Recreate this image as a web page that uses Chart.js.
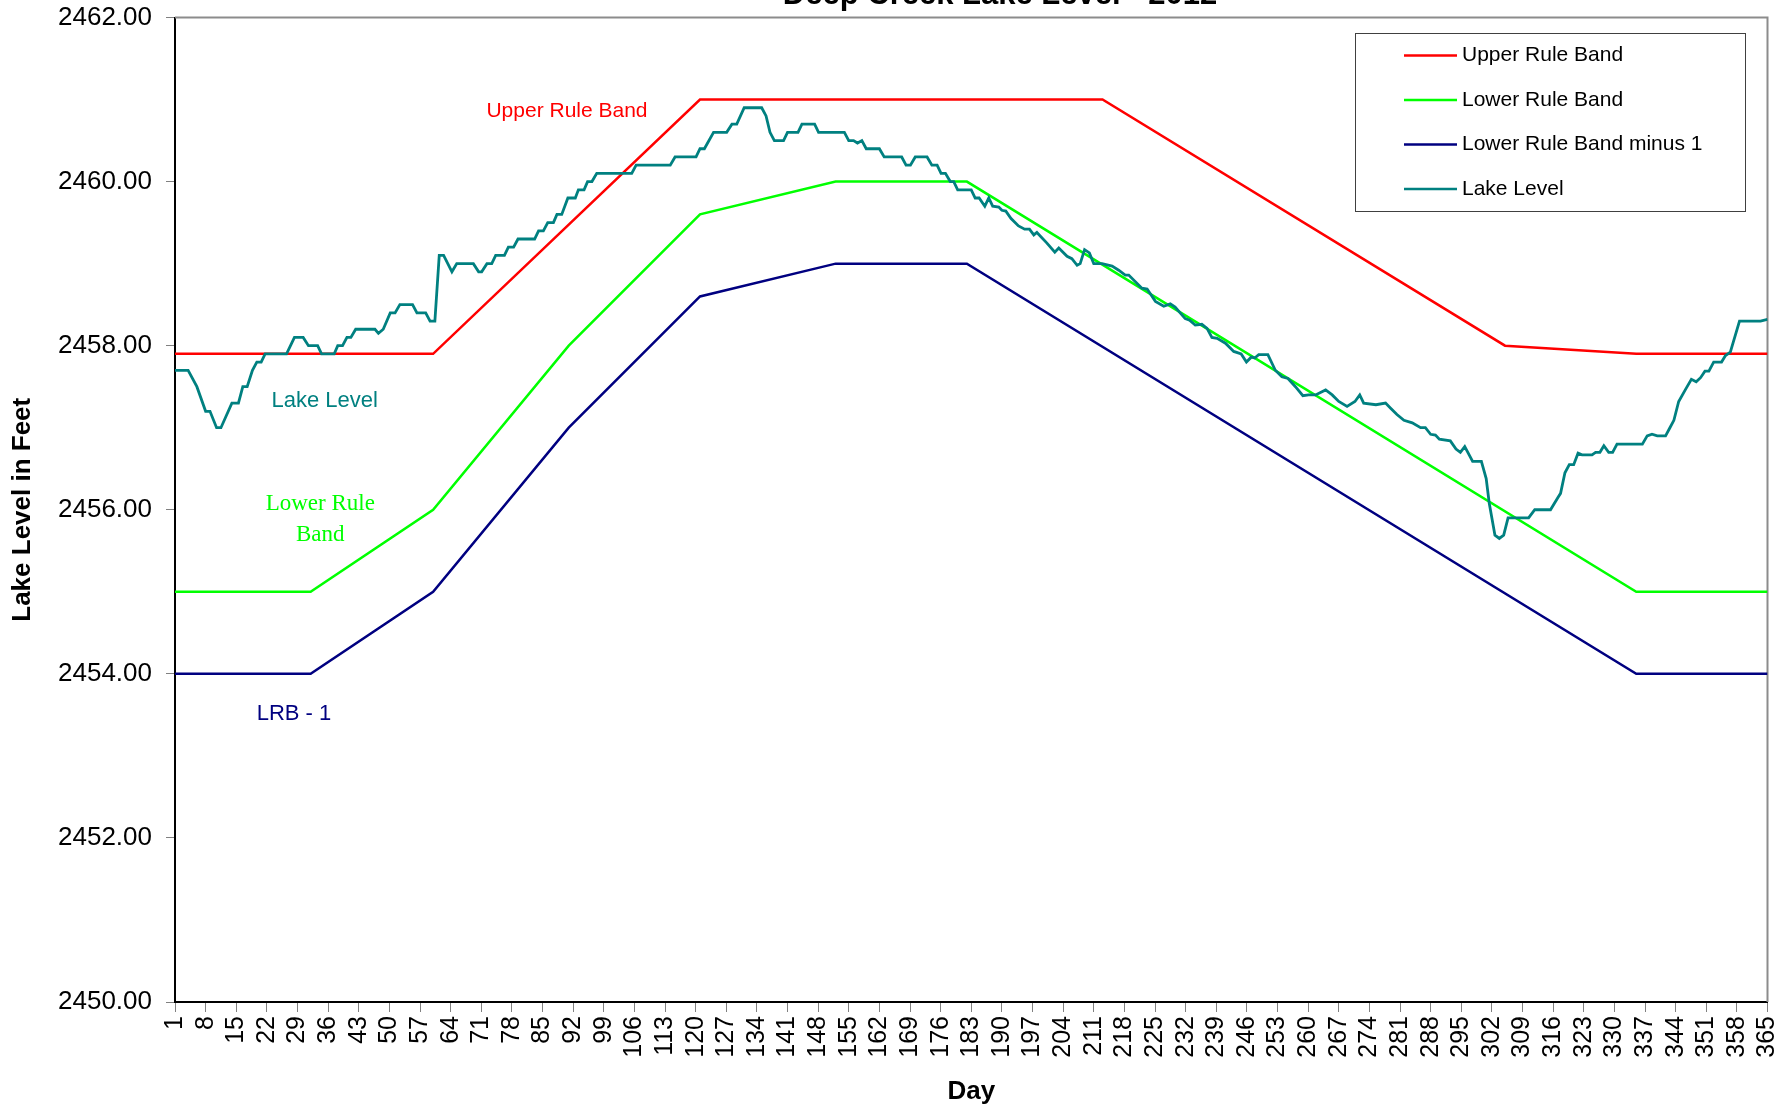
<!DOCTYPE html>
<html>
<head>
<meta charset="utf-8">
<title>Deep Creek Lake Level - 2012</title>
<script src="https://cdn.jsdelivr.net/npm/chart.js@4.4.1/dist/chart.umd.min.js"></script>
<style>
  html, body { margin: 0; padding: 0; background: #fff; }
  canvas { display: block; }
</style>
</head>
<body>
<canvas id="lake" width="1792" height="1109"></canvas>
<script>
// rule bands (day of year -> feet)
const upperDays = [1, 60, 121, 213, 305, 335, 365];
const upperLevels = [2457.9, 2457.9, 2461.0, 2461.0, 2458.0, 2457.9, 2457.9];

const lowerDays = [1, 32, 60, 91, 121, 152, 182, 335, 365];
const lowerLevels = [2455.0, 2455.0, 2456.0, 2458.0, 2459.6, 2460.0, 2460.0, 2455.0, 2455.0];
const lrbLevels = [2454.0, 2454.0, 2455.0, 2457.0, 2458.6, 2459.0, 2459.0, 2454.0, 2454.0];

// lake level
const lakeDays = [1, 4, 6, 8, 9, 10.5, 11.5, 14, 15.5, 16.5, 17.5, 18.7, 19.7, 20.7, 21.6, 26.5, 28.3, 30.3, 31.5, 33.6,
  34.5, 37.4, 38.2, 39.3, 40.3, 41.2, 42.3, 46.7, 47.5, 48.6, 50.2, 51.3, 52.4, 55.3, 56.3, 58.3, 59.3, 60.4, 61.4, 62.4,
  64.3, 65.4, 69.2, 70.4, 71.1, 72.3, 73.4, 74.3, 76.3, 77.2, 78.4, 79.4, 83.2, 84.1, 85.2, 86.2, 87.5, 88.3, 89.4, 90.8,
  92.5, 93.2, 94.5, 95.3, 96.3, 97.4, 105.4, 106.4, 114.2, 115.3, 120.1, 121, 122, 124.1, 127.1, 128.3, 129.4, 131.1, 135.1, 136.1,
  137, 138, 140.1, 141, 143.4, 144.3, 147.2, 148.1, 154, 155, 156.1, 157, 158, 159, 162, 163.1, 167.1, 168.1, 169.1, 170.2,
  172.9, 174, 175.2, 176.1, 177.1, 178.2, 179, 179.9, 183, 183.9, 184.8, 186.1, 187, 187.9, 189.3, 190, 190.9, 192.1, 193.8, 195.2,
  196.3, 197.3, 198, 200.3, 202.1, 203, 204.9, 206, 207.2, 207.9, 208.9, 210, 211, 212.9, 215.2, 216.7, 218.2, 219, 222, 223.2,
  225.1, 227, 228.5, 229.6, 231.9, 232.9, 234.2, 235.7, 236.9, 238, 239.2, 241.1, 243, 244.7, 245.9, 247, 247.8, 248.7, 249.8, 250.8,
  252.5, 254, 255.4, 257.1, 258.8, 260.1, 261.7, 264, 265.5, 267, 268.9, 270.7, 271.8, 272.7, 275.5, 277.7, 278.8, 280.3, 281.9, 283.8,
  285.7, 286.8, 288, 289.1, 290, 292.5, 293.8, 294.8, 295.8, 297.6, 299.6, 300.7, 301.4, 302.7, 303.7, 304.7, 305.7, 310.4, 311.8, 315.4,
  317.1, 317.7, 318.7, 319.7, 320.7, 321.7, 322.6, 324.9, 325.7, 326.7, 327.6, 328.7, 329.6, 330.6, 336.4, 337.5, 338.6, 339.8, 341.7, 342.6,
  343.6, 344.7, 346.3, 347.6, 348.7, 349.7, 350.7, 351.6, 352.7, 354.5, 355.4, 356.5, 358.6, 363.4, 365];
const lakeLevels = [2457.7, 2457.7, 2457.5, 2457.2, 2457.2, 2457.0, 2457.0, 2457.3, 2457.3, 2457.5, 2457.5, 2457.7, 2457.8, 2457.8, 2457.9, 2457.9, 2458.1, 2458.1, 2458.0, 2458.0,
  2457.9, 2457.9, 2458.0, 2458.0, 2458.1, 2458.1, 2458.2, 2458.2, 2458.15, 2458.2, 2458.4, 2458.4, 2458.5, 2458.5, 2458.4, 2458.4, 2458.3, 2458.3, 2459.1, 2459.1,
  2458.9, 2459.0, 2459.0, 2458.9, 2458.9, 2459.0, 2459.0, 2459.1, 2459.1, 2459.2, 2459.2, 2459.3, 2459.3, 2459.4, 2459.4, 2459.5, 2459.5, 2459.6, 2459.6, 2459.8,
  2459.8, 2459.9, 2459.9, 2460.0, 2460.0, 2460.1, 2460.1, 2460.2, 2460.2, 2460.3, 2460.3, 2460.4, 2460.4, 2460.6, 2460.6, 2460.7, 2460.7, 2460.9, 2460.9, 2460.8,
  2460.6, 2460.5, 2460.5, 2460.6, 2460.6, 2460.7, 2460.7, 2460.6, 2460.6, 2460.5, 2460.5, 2460.47, 2460.5, 2460.4, 2460.4, 2460.3, 2460.3, 2460.2, 2460.2, 2460.3,
  2460.3, 2460.2, 2460.2, 2460.1, 2460.1, 2460.0, 2460.0, 2459.9, 2459.9, 2459.8, 2459.8, 2459.7, 2459.8, 2459.7, 2459.69, 2459.65, 2459.64, 2459.55, 2459.46, 2459.42,
  2459.42, 2459.35, 2459.38, 2459.25, 2459.14, 2459.19, 2459.09, 2459.06, 2458.98, 2459.0, 2459.17, 2459.13, 2459.0, 2459.0, 2458.97, 2458.92, 2458.86, 2458.86, 2458.70, 2458.69,
  2458.54, 2458.48, 2458.51, 2458.47, 2458.33, 2458.31, 2458.25, 2458.26, 2458.21, 2458.10, 2458.09, 2458.03, 2457.93, 2457.90, 2457.80, 2457.86, 2457.85, 2457.89, 2457.89, 2457.89,
  2457.70, 2457.62, 2457.60, 2457.50, 2457.39, 2457.40, 2457.40, 2457.46, 2457.40, 2457.32, 2457.26, 2457.32, 2457.40, 2457.30, 2457.28, 2457.30, 2457.24, 2457.16, 2457.09, 2457.06,
  2457.00, 2457.00, 2456.92, 2456.91, 2456.86, 2456.84, 2456.74, 2456.70, 2456.77, 2456.59, 2456.59, 2456.38, 2456.08, 2455.69, 2455.65, 2455.69, 2455.90, 2455.90, 2456.0, 2456.0,
  2456.15, 2456.2, 2456.45, 2456.55, 2456.55, 2456.69, 2456.67, 2456.67, 2456.70, 2456.70, 2456.78, 2456.70, 2456.70, 2456.80, 2456.80, 2456.90, 2456.92, 2456.90, 2456.90, 2456.99,
  2457.09, 2457.32, 2457.47, 2457.59, 2457.56, 2457.61, 2457.69, 2457.69, 2457.80, 2457.80, 2457.88, 2457.92, 2458.30, 2458.30, 2458.32];

// axis ticks
const dayTicks = [1, 8, 15, 22, 29, 36, 43, 50, 57, 64, 71, 78, 85, 92, 99, 106, 113, 120, 127, 134, 141, 148, 155,
  162, 169, 176, 183, 190, 197, 204, 211, 218, 225, 232, 239, 246, 253, 260, 267, 274, 281, 288, 295, 302, 309, 316,
  323, 330, 337, 344, 351, 358, 365];
const levelTicks = [2450, 2452, 2454, 2456, 2458, 2460, 2462];

// text labels placed on the plot in data units
const notes = [
  { text: 'Upper Rule Band', day: 90.6, level: 2460.86, color: '#ff0000', font: '21px "Liberation Sans", Arial, sans-serif' },
  { text: 'Lake Level', day: 35.2, level: 2457.33, color: '#008080', font: '22px "Liberation Sans", Arial, sans-serif' },
  { text: 'Lower Rule', day: 34.2, level: 2456.07, color: '#00ff00', font: '23px "Liberation Serif", "Times New Roman", serif' },
  { text: 'Band', day: 34.2, level: 2455.69, color: '#00ff00', font: '23px "Liberation Serif", "Times New Roman", serif' },
  { text: 'LRB - 1', day: 28.2, level: 2453.51, color: '#000080', font: '22px "Liberation Sans", Arial, sans-serif' }
];

const toPoints = (xs, ys) => xs.map((d, i) => ({ x: d, y: ys[i] }));

Chart.defaults.font.family = '"Liberation Sans", Arial, sans-serif';
Chart.defaults.color = '#000';

const framePlugin = {
  id: 'frame',
  beforeDatasetsDraw(chart) {
    const { ctx, chartArea: a } = chart;
    ctx.save();
    ctx.strokeStyle = '#8c8c8c';
    ctx.lineWidth = 2;
    ctx.beginPath();
    ctx.moveTo(a.left, a.top);
    ctx.lineTo(a.right, a.top);
    ctx.lineTo(a.right, a.bottom);
    ctx.stroke();
    ctx.restore();
  }
};

const notesPlugin = {
  id: 'notes',
  afterDatasetsDraw(chart) {
    const { ctx, scales } = chart;
    ctx.save();
    ctx.textAlign = 'center';
    ctx.textBaseline = 'middle';
    notes.forEach(n => {
      ctx.font = n.font;
      ctx.fillStyle = n.color;
      ctx.fillText(n.text, scales.x.getPixelForValue(n.day), scales.y.getPixelForValue(n.level));
    });
    ctx.restore();
  }
};

// legend box in the top right, like the spreadsheet one
const legendPlugin = {
  id: 'boxLegend',
  afterDraw(chart) {
    const { ctx } = chart;
    const left = 1355, top = 33, w = 390, h = 178;
    ctx.save();
    ctx.fillStyle = '#fff';
    ctx.fillRect(left, top, w, h);
    ctx.strokeStyle = '#404040';
    ctx.lineWidth = 1;
    ctx.strokeRect(left + 0.5, top + 0.5, w, h);
    ctx.font = '21px "Liberation Sans", Arial, sans-serif';
    ctx.textBaseline = 'middle';
    chart.data.datasets.forEach((ds, i) => {
      const y = top + 22.5 + i * 44.5;
      ctx.strokeStyle = ds.borderColor;
      ctx.lineWidth = 2.5;
      ctx.beginPath();
      ctx.moveTo(left + 49, y);
      ctx.lineTo(left + 102, y);
      ctx.stroke();
      ctx.fillStyle = '#000';
      ctx.fillText(ds.label, left + 107, y);
    });
    ctx.restore();
  }
};

// title sits mostly above the canvas edge in the original
const titlePlugin = {
  id: 'cutTitle',
  afterDraw(chart) {
    const { ctx } = chart;
    ctx.save();
    ctx.font = 'bold 31px "Liberation Sans", Arial, sans-serif';
    ctx.fillStyle = '#000';
    ctx.textAlign = 'center';
    ctx.textBaseline = 'alphabetic';
    ctx.fillText('Deep Creek Lake Level - 2012', 1000, 4);
    ctx.restore();
  }
};

const ctx = document.getElementById('lake');

new Chart(ctx, {
  type: 'line',
  data: {
    datasets: [
      { label: 'Upper Rule Band', data: toPoints(upperDays, upperLevels), borderColor: '#ff0000', order: 1 },
      { label: 'Lower Rule Band', data: toPoints(lowerDays, lowerLevels), borderColor: '#00ff00', order: 1 },
      { label: 'Lower Rule Band minus 1', data: toPoints(lowerDays, lrbLevels), borderColor: '#000080', order: 1 },
      { label: 'Lake Level', data: toPoints(lakeDays, lakeLevels), borderColor: '#008080', borderWidth: 2.8, order: 0 }
    ]
  },
  options: {
    responsive: false,
    animation: false,
    devicePixelRatio: 1,
    layout: { padding: { left: 0, top: 17.5, right: 24.5, bottom: 0 } },
    elements: {
      point: { radius: 0 },
      line: { borderWidth: 2.5, tension: 0, fill: false }
    },
    plugins: {
      legend: { display: false },
      tooltip: { enabled: false },
      title: { display: false }
    },
    scales: {
      x: {
        type: 'linear',
        min: 1,
        max: 365,
        afterBuildTicks: s => { s.ticks = dayTicks.map(v => ({ value: v })); },
        afterFit: s => { s.height = 107; s.paddingLeft = 0; s.paddingRight = 0; },
        ticks: {
          autoSkip: false,
          minRotation: 90,
          maxRotation: 90,
          padding: 4,
          color: '#000',
          font: { size: 25 },
          callback: v => String(v)
        },
        grid: { drawOnChartArea: false, tickLength: 10, color: '#808080', lineWidth: 1 },
        border: { color: '#000', width: 2 },
        title: {
          display: true,
          text: 'Day',
          color: '#000',
          font: { size: 26, weight: 'bold' },
          padding: { top: 0, bottom: 2 }
        }
      },
      y: {
        min: 2450,
        max: 2462,
        afterBuildTicks: s => { s.ticks = levelTicks.map(v => ({ value: v })); },
        afterFit: s => { s.width = 175; s.paddingTop = 0; s.paddingBottom = 0; },
        ticks: {
          padding: 14,
          color: '#000',
          font: { size: 26 },
          callback: v => v.toFixed(2)
        },
        grid: { drawOnChartArea: false, tickLength: 9, color: '#808080', lineWidth: 1 },
        border: { color: '#000', width: 2 },
        title: {
          display: true,
          text: 'Lake Level in Feet',
          color: '#000',
          font: { size: 26, weight: 'bold' },
          padding: { top: 7.5, bottom: 0 }
        }
      }
    }
  },
  plugins: [framePlugin, notesPlugin, legendPlugin, titlePlugin]
});
</script>
</body>
</html>
